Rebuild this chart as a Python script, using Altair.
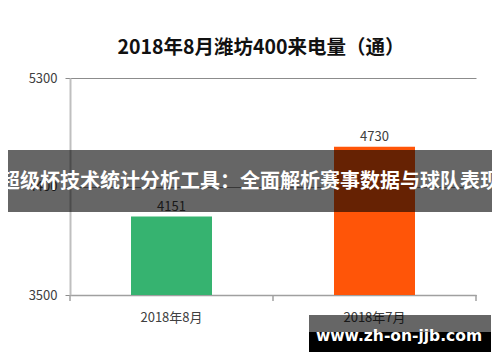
import altair as alt
import pandas as pd

categories = ["2018年8月", "2018年7月"]
values = [4151, 4730]
colors = ["#36B370", "#FF5508"]
y_ticks = [3500, 4400, 5300]
y_min, y_max = 3500, 5300
title_text = "2018年8月潍坊400来电量（通）"
banner_text = "超级杯技术统计分析工具：全面解析赛事数据与球队表现"
watermark_text = "www.zh-on-jjb.com"

df = pd.DataFrame({"cat": categories, "val": values, "color": colors})
one = pd.DataFrame({"k": [0]})

FONT = "Noto Sans CJK SC"

x = alt.X("cat:N", sort=categories, title=None,
          scale=alt.Scale(paddingInner=0.6, paddingOuter=0.3),
          axis=alt.Axis(labelAngle=0, labelFontSize=13, labelColor="#404040",
                        labelFont=FONT, ticks=False, labelPadding=16,
                        domainColor="#a0a0a0", domainWidth=1.5))
y = alt.Y("val:Q", title=None,
          scale=alt.Scale(domain=[y_min, y_max], nice=False, zero=False),
          axis=alt.Axis(values=y_ticks, format="d", labelFontSize=13, labelColor="#404040",
                        labelFont=FONT, tickSize=5, tickColor="#8c8c8c",
                        gridColor="#8c8c8c", grid=True, labelPadding=8,
                        domainColor="#bfbfbf", domainWidth=2))

bars = alt.Chart(df).mark_bar(size=81).encode(
    x=x, y=y, y2=alt.datum(y_min), color=alt.Color("color:N", scale=None))

labels = alt.Chart(df).mark_text(baseline="bottom", dy=-3, fontSize=13,
                                 color="#404040", font=FONT).encode(
    x=alt.X("cat:N", sort=categories), y="val:Q", text="val:Q")

tick_rules = [
    alt.Chart(one).mark_rule(color="#a0a0a0", strokeWidth=1.5).encode(
        x=alt.value(px), y=alt.value(217), y2=alt.value(223))
    for px in [0, 203, 406]
]

banner = alt.Chart(one).mark_rect(color="black", opacity=0.6).encode(
    x=alt.value(-70), x2=alt.value(432), y=alt.value(72), y2=alt.value(134))
banner_t = alt.Chart(one).mark_text(
    text=banner_text, color="white", fontSize=20, fontWeight="bold",
    font=FONT, align="center", baseline="middle").encode(
    x=alt.value(180), y=alt.value(104))

wm_top = alt.Chart(one).mark_rect(color="black", opacity=0.6).encode(
    x=alt.value(239), x2=alt.value(421), y=alt.value(237), y2=alt.value(254))
wm_bot = alt.Chart(one).mark_rect(color="black").encode(
    x=alt.value(239), x2=alt.value(421), y=alt.value(254), y2=alt.value(274))
wm_t = alt.Chart(one).mark_text(
    text=watermark_text, color="white", fontSize=15.5, fontWeight="bold",
    font="DejaVu Sans", align="center", baseline="middle").encode(
    x=alt.value(329), y=alt.value(258))

chart = alt.layer(bars, labels, *tick_rules, banner, banner_t, wm_top, wm_bot, wm_t).properties(
    width=406, height=217,
    title=alt.TitleParams(title_text, fontSize=19.5, fontWeight="bold", font=FONT,
                          color="#111111", anchor="middle", offset=14, dx=-12),
    padding={"left": 62, "top": 70, "right": 16, "bottom": 59},
    autosize=alt.AutoSizeParams(type="none"),
).configure_view(stroke=None)

chart.save("out.html", embed_options={"renderer": "svg", "actions": False})
